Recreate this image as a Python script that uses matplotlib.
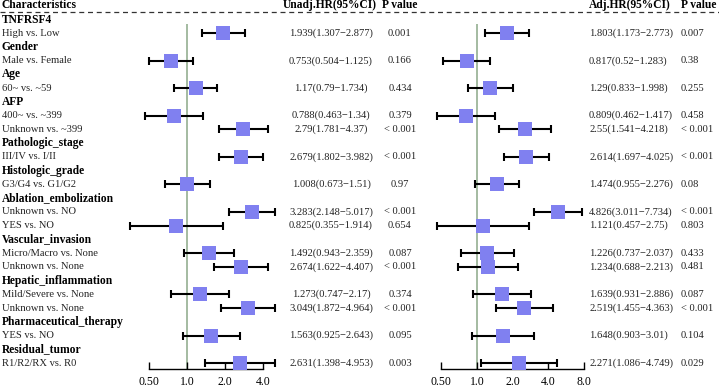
import numpy as np
import matplotlib.pyplot as plt
import matplotlib.transforms as mtransforms

plt.rcParams['font.family'] = ['Liberation Serif', 'DejaVu Serif']

# Row labels (bold = variable header)
labels = ['TNFRSF4', 'High vs. Low', 'Gender', 'Male vs. Female', 'Age', '60~ vs. ~59',
          'AFP', '400~ vs. ~399', 'Unknown vs. ~399', 'Pathologic_stage', 'III/IV vs. I/II',
          'Histologic_grade', 'G3/G4 vs. G1/G2', 'Ablation_embolization', 'Unknown vs. NO',
          'YES vs. NO', 'Vascular_invasion', 'Micro/Macro vs. None', 'Unknown vs. None',
          'Hepatic_inflammation', 'Mild/Severe vs. None', 'Unknown vs. None',
          'Pharmaceutical_therapy', 'YES vs. NO', 'Residual_tumor', 'R1/R2/RX vs. R0']
is_header = [1, 0, 1, 0, 1, 0, 1, 0, 0, 1, 0, 1, 0, 1, 0, 0, 1, 0, 0, 1, 0, 0, 1, 0, 1, 0]

# Rows that carry an estimate
est_rows = [1, 3, 5, 7, 8, 10, 12, 14, 15, 17, 18, 20, 21, 23, 25]

unadj_hr = [1.939, 0.753, 1.17, 0.788, 2.79, 2.679, 1.008, 3.283, 0.825, 1.492, 2.674, 1.273, 3.049, 1.563, 2.631]
unadj_lo = [1.307, 0.504, 0.79, 0.463, 1.781, 1.802, 0.673, 2.148, 0.355, 0.943, 1.622, 0.747, 1.872, 0.925, 1.398]
unadj_hi = [2.877, 1.125, 1.734, 1.34, 4.37, 3.982, 1.51, 5.017, 1.914, 2.359, 4.407, 2.17, 4.964, 2.643, 4.953]
unadj_p = ['0.001', '0.166', '0.434', '0.379', '< 0.001', '< 0.001', '0.97', '< 0.001', '0.654',
           '0.087', '< 0.001', '0.374', '< 0.001', '0.095', '0.003']

adj_hr = [1.803, 0.817, 1.29, 0.809, 2.55, 2.614, 1.474, 4.826, 1.121, 1.226, 1.234, 1.639, 2.519, 1.648, 2.271]
adj_lo = [1.173, 0.52, 0.833, 0.462, 1.541, 1.697, 0.955, 3.011, 0.457, 0.737, 0.688, 0.931, 1.455, 0.903, 1.086]
adj_hi = [2.773, 1.283, 1.998, 1.417, 4.218, 4.025, 2.276, 7.734, 2.75, 2.037, 2.213, 2.886, 4.363, 3.01, 4.749]
adj_p = ['0.007', '0.38', '0.255', '0.458', '< 0.001', '< 0.001', '0.08', '< 0.001', '0.803',
         '0.433', '0.481', '0.087', '< 0.001', '0.104', '0.029']

ticks_left = [0.5, 1.0, 2.0, 4.0]
ticks_right = [0.5, 1.0, 2.0, 4.0, 8.0]

W, H = 719, 392
fig = plt.figure(figsize=(W / 100, H / 100), dpi=100)

box_color = '#8080f0'
ref_color = '#9db59a'
fs = 7.6
fs_bold = 8.3


def hr_text(h, lo, hi):
    return f'{h}({lo}\u2212{hi})'


def forest(px_left, px_right, px_one, px_per_doubling, hr, lo, hi, ticks):
    # pixel layout -> axes in figure fraction
    y_bottom_px = 369
    ax = fig.add_axes([px_left / W, 1 - y_bottom_px / H, (px_right - px_left) / W, y_bottom_px / H])
    ax.patch.set_visible(False)
    ax.set_xscale('log', base=2)
    xmin = 2 ** ((px_left - px_one) / px_per_doubling)
    xmax = 2 ** ((px_right - px_one) / px_per_doubling)
    ax.set_xlim(xmin, xmax)
    row0_px, row_step = 19.5, 13.74
    ax.set_ylim((y_bottom_px - row0_px) / row_step, (0 - row0_px) / row_step)
    ax.vlines(1.0, 0.3, ax.get_ylim()[0], color=ref_color, lw=1.3, zorder=1)
    hr = np.array(hr)
    err = [hr - np.array(lo), np.array(hi) - hr]
    ax.errorbar(hr, est_rows, xerr=err, fmt='none', ecolor='black', elinewidth=1.5,
                capsize=3.2, capthick=1.5, zorder=2)
    ax.plot(hr, est_rows, 's', color=box_color, markersize=9.8, markeredgewidth=0, zorder=3)
    for s in ['top', 'right', 'left']:
        ax.spines[s].set_visible(False)
    ax.spines['bottom'].set_bounds(ticks[0], ticks[-1])
    ax.spines['bottom'].set_linewidth(1.0)
    ax.set_yticks([])
    ax.set_xticks(ticks)
    ax.set_xticks([], minor=True)
    ax.set_xticklabels([f'{t:.2f}' if t < 1 else f'{t:.1f}' for t in ticks])
    ax.tick_params(axis='x', direction='in', length=5, width=1.0, labelsize=8.5, pad=5)
    return ax


ax1 = forest(120, 290, 187, 38.0, unadj_hr, unadj_lo, unadj_hi, ticks_left)
ax2 = forest(420, 592, 477, 35.6, adj_hr, adj_lo, adj_hi, ticks_right)

# text columns share the row positions of the forest axes
tr = mtransforms.blended_transform_factory(fig.transFigure, ax1.transData)
for i, (lab, hd) in enumerate(zip(labels, is_header)):
    if hd:
        fig.text(2 / W, i, lab, transform=tr, fontsize=fs_bold, fontweight='bold', va='center', ha='left')
    else:
        fig.text(2 / W, i, lab, transform=tr, fontsize=fs, color='#222222', va='center', ha='left')

for k, r in enumerate(est_rows):
    fig.text(331 / W, r, hr_text(unadj_hr[k], unadj_lo[k], unadj_hi[k]), transform=tr,
             fontsize=fs, color='#222222', va='center', ha='center')
    fig.text(400 / W, r, unadj_p[k], transform=tr, fontsize=fs, color='#222222', va='center', ha='center')
    fig.text(589 / W, r, hr_text(adj_hr[k], adj_lo[k], adj_hi[k]), transform=tr,
             fontsize=fs, color='#222222', va='center', ha='left')
    fig.text(681 / W, r, adj_p[k], transform=tr, fontsize=fs, color='#222222', va='center', ha='left')

# header row
hy = 1 - 5.0 / H
fig.text(2 / W, hy, 'Characteristics', fontsize=fs_bold, fontweight='bold', va='center', ha='left')
fig.text(330 / W, hy, 'Unadj.HR(95%CI)', fontsize=fs_bold, fontweight='bold', va='center', ha='center')
fig.text(400 / W, hy, 'P value', fontsize=fs_bold, fontweight='bold', va='center', ha='center')
fig.text(589 / W, hy, 'Adj.HR(95%CI)', fontsize=fs_bold, fontweight='bold', va='center', ha='left')
fig.text(681 / W, hy, 'P value', fontsize=fs_bold, fontweight='bold', va='center', ha='left')

# dashed separator under header
fig.add_artist(plt.Line2D([0, 1], [1 - 11.5 / H] * 2, transform=fig.transFigure,
                          color='#333333', lw=0.9, linestyle=(0, (4, 3))))

fig.savefig('out.png', dpi=100)
